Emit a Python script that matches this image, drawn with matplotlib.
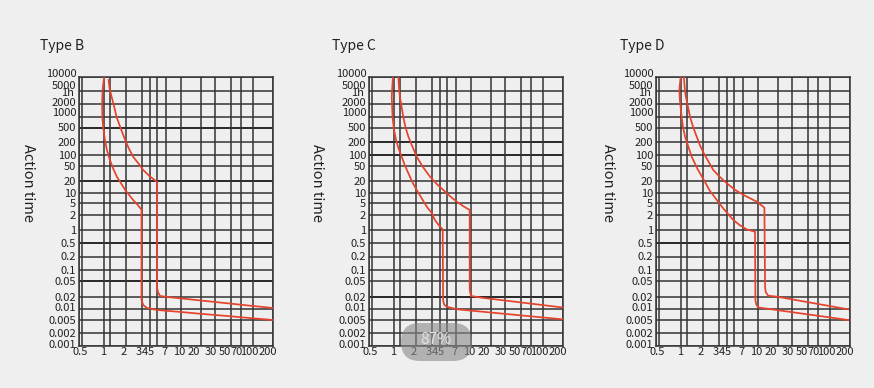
import numpy as np
import matplotlib
matplotlib.use("Agg")
import matplotlib.pyplot as plt
from matplotlib.transforms import ScaledTranslation, IdentityTransform
from matplotlib.patches import FancyBboxPatch

plt.rcParams['font.family'] = ['Noto Sans CJK SC', 'DejaVu Sans']

# ─────────────────────────────────────────────────────────────────────────────
# Datos
# ─────────────────────────────────────────────────────────────────────────────

tipos = ["Type B", "Type C", "Type D"]

x_valores   = [0.5, 1, 2, 3, 4, 5, 7, 10, 20, 30, 50, 70, 100, 200]
x_etiquetas = ["0.5", "1", "2", "3", "4", "5", "7", "10", "20", "30", "50", "70", "100", "200"]
x_extra     = [0.54, 1.2]          # lineas sin etiqueta

y_valores   = [10000, 5000, 2000, 1000, 500, 200, 100, 50, 20, 10, 5, 2, 1,
               0.5, 0.2, 0.1, 0.05, 0.02, 0.01, 0.005, 0.002, 0.001]
y_etiquetas = ["10000", "5000", "2000", "1000", "500", "200", "100", "50", "20", "10", "5", "2", "1",
               "0.5", "0.2", "0.1", "0.05", "0.02", "0.01", "0.005", "0.002", "0.001"]
y_hora      = 3600                 # "1h"

# Tipo B
b_bajo_x = [1.0, 0.96, 0.95, 0.955, 0.98, 1.03, 1.1, 1.21, 1.35, 1.52, 1.75, 1.98, 2.42, 2.75, 3.0, 3.0, 3.2, 3.66, 5, 10, 20, 50, 100, 200]
b_bajo_y = [10000, 5000, 2000, 1000, 500, 228, 130, 73, 42, 25.5, 17, 11.9, 6.2, 4.2, 3.0, 0.0168, 0.0125, 0.0106, 0.0094, 0.0083, 0.0074, 0.0063, 0.00556, 0.005]
b_alto_x = [1.16, 1.2, 1.28, 1.38, 1.5, 1.72, 1.98, 2.2, 2.44, 2.8, 3.2, 4.0, 5, 5, 5.2, 5.6, 7.2, 10, 50, 100, 200]
b_alto_y = [8600, 5500, 3300, 1800, 1000, 480, 228, 135, 88, 57, 39, 27, 19, 0.035, 0.026, 0.0212, 0.02, 0.0185, 0.0136, 0.0119, 0.0106]

# Tipo C
c_bajo_x = [0.97, 0.95, 0.94, 0.96, 1.0, 1.07, 1.16, 1.28, 1.42, 1.59, 1.8, 2.06, 2.35, 2.66, 3.0, 3.39, 3.9, 4.4, 4.45, 4.6, 4.97, 7.2, 200]
c_bajo_y = [10000, 5500, 3300, 1000, 450, 228, 140, 90, 52, 32, 19, 11.9, 6.8, 3.77, 2.4, 1.59, 1.25, 1.03, 0.0168, 0.0128, 0.0114, 0.0098, 0.0052]
c_alto_x = [1.15, 1.18, 1.21, 1.35, 1.45, 1.59, 1.8, 2.06, 2.4, 2.89, 3.6, 4.48, 5.6, 7.12, 8.5, 9.8, 9.8, 9.95, 10.2, 14.7, 200]
c_alto_y = [10000, 5500, 3300, 1000, 520, 283, 160, 90, 48, 26, 17, 11.9, 8, 5.5, 3.8, 2.93, 0.033, 0.025, 0.0212, 0.0192, 0.0109]

# Tipo D
d_bajo_x = [0.99, 0.955, 0.97, 1.02, 1.07, 1.14, 1.26, 1.41, 1.7, 2.07, 2.4, 2.87, 3.6, 4.9, 6.2, 7.66, 9.4, 9.5, 9.7, 10.3, 13.8, 188]
d_bajo_y = [10000, 5260, 2650, 1000, 520, 283, 160, 90, 42, 21.3, 11.5, 6.2, 3.2, 1.59, 1.25, 1.03, 0.91, 0.0168, 0.013, 0.0109, 0.0102, 0.005]
d_alto_x = [1.10, 1.13, 1.17, 1.34, 1.48, 1.66, 1.85, 2.07, 2.63, 3.2, 4.03, 5.2, 7.1, 9.8, 12.7, 13.0, 13.3, 14.5, 19.5, 188]
d_alto_y = [10000, 5500, 3300, 1000, 530, 283, 165, 109, 39, 25, 17.5, 12, 8.7, 5.5, 3.5, 0.0352, 0.0265, 0.0215, 0.0204, 0.0098]

curvas = [((b_bajo_x, b_bajo_y), (b_alto_x, b_alto_y)),
          ((c_bajo_x, c_bajo_y), (c_alto_x, c_alto_y)),
          ((d_bajo_x, d_bajo_y), (d_alto_x, d_alto_y))]

# ─────────────────────────────────────────────────────────────────────────────
# Escala irregular de la cuadricula (posicion de cada linea, en px)
# ─────────────────────────────────────────────────────────────────────────────

x_escala = [0, 25, 46.5, 62.5, 70.5, 78, 87, 101.5, 121.5, 135.5, 152, 162, 174, 194]
y_escala = [269, 255, 242, 229, 218, 204, 191, 180, 165, 153, 143, 131, 116,
            103, 89, 76, 65, 49, 37, 26, 13, 0]

def hacer_escala(valores, posiciones):
    lv = np.log10(np.asarray(valores, float))
    pos = np.asarray(posiciones, float)
    orden = np.argsort(lv)
    lv, pos = lv[orden], pos[orden]
    def ida(v):
        v = np.clip(np.asarray(v, float), 1e-12, None)
        return np.interp(np.log10(v), lv, pos)
    def vuelta(p):
        return 10 ** np.interp(np.asarray(p, float), pos, lv)
    return ida, vuelta

escala_x = hacer_escala(x_valores, x_escala)
escala_y = hacer_escala(y_valores, y_escala)

# desplazamientos de etiquetas (px), como en el original
x_despl = [1, -1, -1.5, -3, -4.5, -6, -1, -1.5, -6.5, -4, -6, -4.5, -4, -5]
y_despl = [4, 6, 2, 5, 1, 0, 0, 0, 0, 0, 0, 0, 0, 0, 1, 0, 0, 0, 2, 0, 0, 2]
hora_despl = 4

lineas_negras = [[500, 20, 0.5, 0.05], [200, 100, 0.02], [0.5]]

# ─────────────────────────────────────────────────────────────────────────────
# Figura
# ─────────────────────────────────────────────────────────────────────────────

W, H = 874, 388
fondo = "#efefef"
gris = "#343434"
rojo = "#e5432c"
texto = "#222222"

fig = plt.figure(figsize=(W / 100, H / 100), dpi=100)
fig.patch.set_facecolor(fondo)

izq_px    = [79, 369, 656]
titulo_px = [40, 332, 620]
eje_px    = [28, 317, 608]

for i in range(3):
    ax = fig.add_axes([izq_px[i] / W, 42 / H, 194 / W, 269 / H])
    ax.set_facecolor(fondo)
    ax.set_xscale("function", functions=escala_x)
    ax.set_yscale("function", functions=escala_y)
    ax.set_xlim(0.5, 200)
    ax.set_ylim(0.001, 10000)

    ax.set_xticks(x_valores, x_etiquetas)
    ax.set_xticks(x_extra, minor=True)
    ax.set_yticks(y_valores, y_etiquetas)
    ax.set_yticks([y_hora], ["1h"], minor=True)
    ax.tick_params(which="both", length=0, labelsize=8, labelcolor=texto)
    ax.tick_params(axis="x", pad=0.5)
    ax.tick_params(axis="y", pad=2)

    ax.grid(True, which="major", color=gris, lw=1.1)
    ax.xaxis.grid(True, which="minor", color=gris, lw=1.1)
    for v in lineas_negras[i]:
        ax.axhline(v, color="#0c0c0c", lw=1.4, zorder=1.5)
    for s in ax.spines.values():
        s.set_color(gris)
        s.set_linewidth(1.1)

    for cx, cy in curvas[i]:
        ax.plot(cx, cy, color=rojo, lw=1.25, zorder=3, solid_joinstyle="round")

    for lab, dx in zip(ax.get_xticklabels(), x_despl):
        lab.set_transform(lab.get_transform() + ScaledTranslation(dx / 100, 0, fig.dpi_scale_trans))
    for lab, dy in zip(ax.get_yticklabels(), y_despl):
        lab.set_transform(lab.get_transform() + ScaledTranslation(0, dy / 100, fig.dpi_scale_trans))
    for lab in ax.get_yticklabels(minor=True):
        lab.set_transform(lab.get_transform() + ScaledTranslation(0, hora_despl / 100, fig.dpi_scale_trans))

    fig.text(titulo_px[i] / W, 1 - 50 / H, tipos[i], fontsize=10, color=texto, va="baseline")
    fig.text(eje_px[i] / W, 1 - 183 / H, "Action time", fontsize=10.5, color=texto,
             rotation=-90, ha="center", va="center")

# marca gris "87%" sobre el tipo C
burbuja = FancyBboxPatch((401, 388 - 361), 71, 38, boxstyle="round,pad=0,rounding_size=19",
                         transform=IdentityTransform(), facecolor="#8a8a8a", alpha=0.6,
                         edgecolor="none", zorder=10)
fig.add_artist(burbuja)
fig.text(436 / W, 1 - 339 / H, "87%", fontsize=11, color="#e2e2e2", ha="center", va="center", zorder=11)

fig.savefig("out.png", dpi=100, facecolor=fondo)
